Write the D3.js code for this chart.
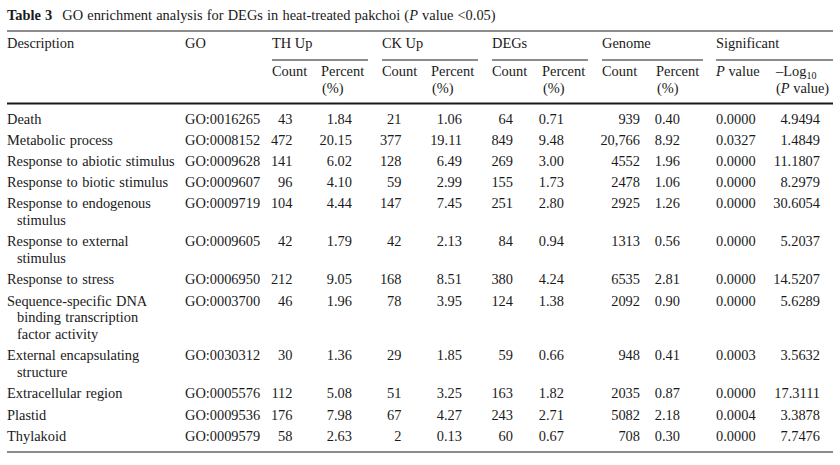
<!DOCTYPE html>
<html>
<head>
<meta charset="utf-8">
<script src="https://cdn.jsdelivr.net/npm/d3@7"></script>
<style>
  body { margin: 0; background: #fff; }
  svg text { font-family: "Liberation Serif", "Times New Roman", serif; fill: #1a1a1a; }
</style>
</head>
<body>
<div id="chart"></div>
<script>
// table data
const titleLabel = 'Table 3';
const titleText = 'GO enrichment analysis for DEGs in heat-treated pakchoi (';
const titleTail = ' value <0.05)';

const groupHeaders = ['TH Up', 'CK Up', 'DEGs', 'Genome', 'Significant'];

const descriptions = [
    ['Death'],
    ['Metabolic process'],
    ['Response to abiotic stimulus'],
    ['Response to biotic stimulus'],
    ['Response to endogenous', 'stimulus'],
    ['Response to external', 'stimulus'],
    ['Response to stress'],
    ['Sequence-specific DNA', 'binding transcription', 'factor activity'],
    ['External encapsulating', 'structure'],
    ['Extracellular region'],
    ['Plastid'],
    ['Thylakoid']
];
const goIds = ['GO:0016265', 'GO:0008152', 'GO:0009628', 'GO:0009607', 'GO:0009719', 'GO:0009605',
    'GO:0006950', 'GO:0003700', 'GO:0030312', 'GO:0005576', 'GO:0009536', 'GO:0009579'];
const thCount = [43, 472, 141, 96, 104, 42, 212, 46, 30, 112, 176, 58];
const thPercent = [1.84, 20.15, 6.02, 4.10, 4.44, 1.79, 9.05, 1.96, 1.36, 5.08, 7.98, 2.63];
const ckCount = [21, 377, 128, 59, 147, 42, 168, 78, 29, 51, 67, 2];
const ckPercent = [1.06, 19.11, 6.49, 2.99, 7.45, 2.13, 8.51, 3.95, 1.85, 3.25, 4.27, 0.13];
const degCount = [64, 849, 269, 155, 251, 84, 380, 124, 59, 163, 243, 60];
const degPercent = [0.71, 9.48, 3.00, 1.73, 2.80, 0.94, 4.24, 1.38, 0.66, 1.82, 2.71, 0.67];
const genomeCount = [939, 20766, 4552, 2478, 2925, 1313, 6535, 2092, 948, 2035, 5082, 708];
const genomePercent = [0.40, 8.92, 1.96, 1.06, 1.26, 0.56, 2.81, 0.90, 0.41, 0.87, 2.18, 0.30];
const pValue = [0.0000, 0.0327, 0.0000, 0.0000, 0.0000, 0.0000, 0.0000, 0.0000, 0.0003, 0.0000, 0.0004, 0.0000];
const negLog = [4.9494, 1.4849, 11.1807, 8.2979, 30.6054, 5.2037, 14.5207, 5.6289, 3.5632, 17.3111, 3.3878, 7.7476];

const width = 840, height = 465;
const fontSize = 14.4;
const left = 7, right = 833;

const svg = d3.select('#chart').append('svg')
    .attr('width', width)
    .attr('height', height);

// column anchors (x where text starts / ends)
const colKeys = ['desc', 'go', 'thC', 'thP', 'ckC', 'ckP', 'degC', 'degP', 'genC', 'genP', 'pv', 'nl'];
const colX = d3.scaleOrdinal()
    .domain(colKeys)
    .range([7, 185, 292.5, 352, 401.5, 462, 513, 564, 640, 680, 716, 820]);

const groupStart = d3.scaleOrdinal().domain(groupHeaders).range([272, 382, 492, 602, 716]);
const groupEnd = d3.scaleOrdinal().domain(groupHeaders).range([368, 478, 588, 703, right]);
const subCount = d3.scaleOrdinal().domain(groupHeaders).range([272, 382, 492, 602, 716]);
const subPercent = d3.scaleOrdinal().domain(groupHeaders).range([321, 431, 542, 656, 776]);

// row baselines
const lineStep = 16.8, rowStep = 21.2;
const rowY = d3.scaleLinear().domain([0, 1]).range([123.5, 123.5 + rowStep]);
let extra = 0;
const rowBase = descriptions.map((d, i) => {
    const y = rowY(i) + extra * lineStep;
    extra += d.length - 1;
    return y;
});

// title
const title = svg.append('text')
    .attr('x', left)
    .attr('y', 20)
    .attr('font-size', fontSize)
    .attr('word-spacing', 0.6);
title.append('tspan').attr('font-weight', 'bold').text(titleLabel);
title.append('tspan').attr('dx', 10).text(titleText);
title.append('tspan').attr('font-style', 'italic').text('P');
title.append('tspan').text(titleTail);

// rules
const rule = (y, x1, x2, w) => svg.append('line')
    .attr('x1', x1).attr('x2', x2)
    .attr('y1', y).attr('y2', y)
    .attr('stroke', '#1a1a1a')
    .attr('stroke-width', w);

rule(31, left, right, 1);
rule(103.5, left, right, 2);
rule(452, left, right, 1);
groupHeaders.forEach(g => rule(60, groupStart(g), groupEnd(g), 1));

// header row 1
const head = svg.append('g').attr('font-size', fontSize);
head.append('text').attr('x', colX('desc')).attr('y', 48).text('Description');
head.append('text').attr('x', colX('go')).attr('y', 48).text('GO');
head.selectAll('.group')
    .data(groupHeaders)
    .enter()
    .append('text')
    .attr('class', 'group')
    .attr('x', d => groupStart(d))
    .attr('y', 48)
    .text(d => d);

// header row 2
const countGroups = groupHeaders.slice(0, 4);
head.selectAll('.sub-count')
    .data(countGroups)
    .enter()
    .append('text')
    .attr('x', d => subCount(d))
    .attr('y', 76)
    .text('Count');
head.selectAll('.sub-pct')
    .data(countGroups)
    .enter()
    .append('g')
    .each(function (d) {
        const g = d3.select(this);
        g.append('text').attr('x', subPercent(d)).attr('y', 76).text('Percent');
        g.append('text').attr('x', subPercent(d) + 1).attr('y', 93).text('(%)');
    });

const pv = head.append('text').attr('x', subCount('Significant')).attr('y', 76);
pv.append('tspan').attr('font-style', 'italic').text('P');
pv.append('tspan').text(' value');

const lg = head.append('text').attr('x', subPercent('Significant')).attr('y', 76);
lg.append('tspan').text('\u2013Log');
lg.append('tspan').attr('font-size', 10).attr('dy', 3).text('10');
const lg2 = head.append('text').attr('x', subPercent('Significant')).attr('y', 93);
lg2.append('tspan').text('(');
lg2.append('tspan').attr('font-style', 'italic').text('P');
lg2.append('tspan').text(' value)');

// body
const fmtCount = n => n >= 10000 ? d3.format(',')(n) : String(n);
const f2 = d3.format('.2f');
const f4 = d3.format('.4f');

const rows = descriptions.map((d, i) => ({
    desc: d, go: goIds[i],
    thC: fmtCount(thCount[i]), thP: f2(thPercent[i]),
    ckC: fmtCount(ckCount[i]), ckP: f2(ckPercent[i]),
    degC: fmtCount(degCount[i]), degP: f2(degPercent[i]),
    genC: fmtCount(genomeCount[i]), genP: f2(genomePercent[i]),
    pv: f4(pValue[i]), nl: f4(negLog[i]),
    y: rowBase[i]
}));

const body = svg.append('g').attr('font-size', fontSize);
const rowG = body.selectAll('.row')
    .data(rows)
    .enter()
    .append('g')
    .attr('class', 'row');

rowG.each(function (r) {
    const g = d3.select(this);
    r.desc.forEach((line, k) => {
        g.append('text')
            .attr('x', colX('desc') + (k > 0 ? 10 : 0))
            .attr('y', r.y + k * lineStep)
            .attr('word-spacing', 0.8)
            .text(line);
    });
    g.append('text').attr('x', colX('go')).attr('y', r.y).text(r.go);
    colKeys.slice(2).forEach(k => {
        g.append('text')
            .attr('x', colX(k))
            .attr('y', r.y)
            .attr('text-anchor', k === 'pv' ? 'start' : 'end')
            .text(r[k]);
    });
});
</script>
</body>
</html>
